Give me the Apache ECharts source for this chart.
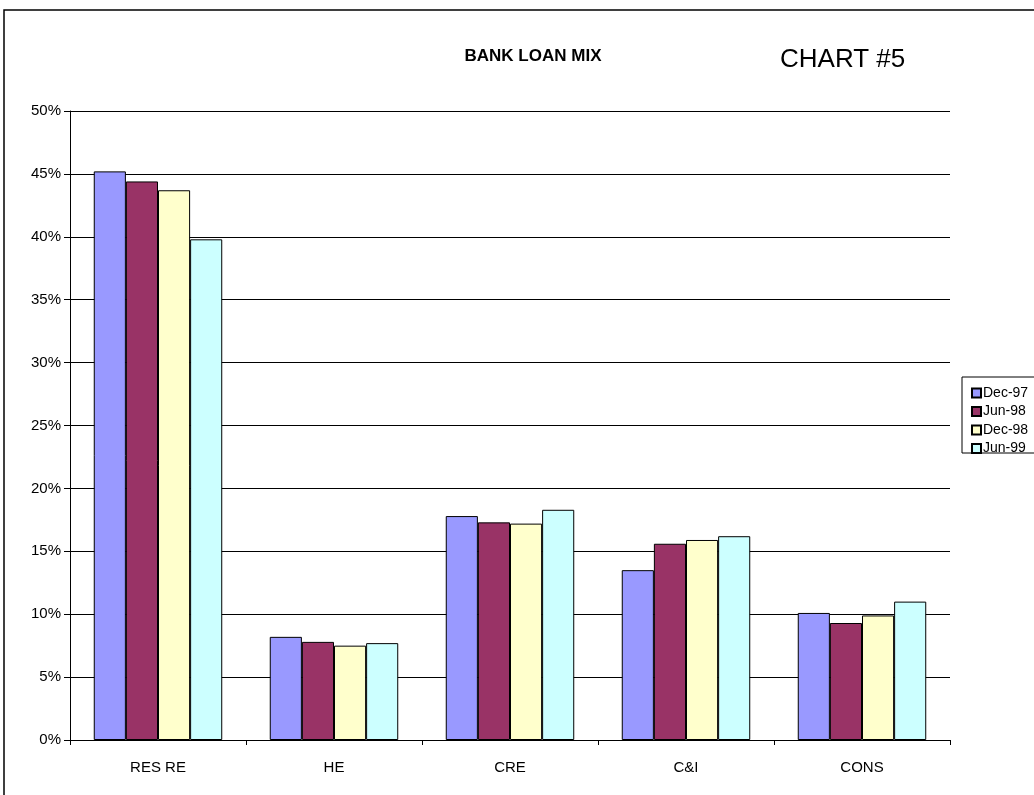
<!DOCTYPE html>
<html>
<head>
<meta charset="utf-8">
<script src="https://cdn.jsdelivr.net/npm/echarts@6/dist/echarts.min.js"></script>
<style>
html,body{margin:0;padding:0;background:#fff;}
#chart{width:1034px;height:795px;}
</style>
</head>
<body>
<div id="chart"></div>
<script>
const categories = ['RES RE', 'HE', 'CRE', 'C&I', 'CONS'];
const seriesNames = ['Dec-97', 'Jun-98', 'Dec-98', 'Jun-99'];
const dec97 = [45.2, 8.2, 17.8, 13.5, 10.1];
const jun98 = [44.4, 7.8, 17.3, 15.6, 9.3];
const dec98 = [43.7, 7.5, 17.2, 15.9, 9.9];
const jun99 = [39.8, 7.7, 18.3, 16.2, 11.0];
const yTicks = [0, 5, 10, 15, 20, 25, 30, 35, 40, 45, 50];
const colors = ['#9999FF', '#993366', '#FFFFCC', '#CCFFFF'];

const font = 'Liberation Sans, Arial, sans-serif';
const allData = [dec97, jun98, dec98, jun99];

const chart = echarts.init(document.getElementById('chart'), null, {renderer: 'canvas'});
chart.setOption({
  animation: false,
  backgroundColor: '#fff',
  color: colors,
  graphic: [
    {type: 'rect', shape: {x: 4, y: 10, width: 1040, height: 800},
     style: {fill: 'none', stroke: '#000', lineWidth: 1.5}, z: 100},
    {type: 'rect', shape: {x: 962, y: 377, width: 80, height: 76},
     style: {fill: '#fff', stroke: '#000', lineWidth: 1}, z: 1}
  ],
  title: [
    {text: 'BANK LOAN MIX', left: 528, top: 43, textAlign: 'center',
     textStyle: {fontFamily: font, fontSize: 17, fontWeight: 'bold', color: '#000'}},
    {text: 'CHART #5', left: 775, top: 42,
     textStyle: {fontFamily: font, fontSize: 26, fontWeight: 'normal', color: '#000'}}
  ],
  legend: {
    orient: 'vertical',
    left: 966, top: 381,
    itemWidth: 9, itemHeight: 9,
    itemGap: 4.5,
    icon: 'rect',
    textStyle: {fontFamily: font, fontSize: 14, color: '#000', padding: [0, 0, 0, -3]},
    data: seriesNames
  },
  grid: {left: 70, right: 84, top: 111, bottom: 55, containLabel: false},
  xAxis: {
    type: 'category',
    data: categories,
    axisLine: {lineStyle: {color: '#000', width: 1}},
    axisTick: {show: true, length: 5, lineStyle: {color: '#000'}, alignWithLabel: false},
    axisLabel: {fontFamily: font, fontSize: 15, color: '#000', margin: 20}
  },
  yAxis: {
    type: 'value',
    min: yTicks[0], max: yTicks[yTicks.length - 1], interval: 5,
    axisLine: {show: true, lineStyle: {color: '#000', width: 1}},
    axisTick: {show: true, length: 6, lineStyle: {color: '#000'}},
    axisLabel: {fontFamily: font, fontSize: 15, color: '#000', margin: 9, formatter: '{value}%'},
    splitLine: {show: true, lineStyle: {color: '#000', width: 1}}
  },
  series: seriesNames.map((name, i) => ({
    name: name,
    type: 'bar',
    data: allData[i],
    barGap: '0%',
    barCategoryGap: '27%',
    itemStyle: {color: colors[i], borderColor: '#000', borderWidth: 1}
  }))
});
</script>
</body>
</html>
